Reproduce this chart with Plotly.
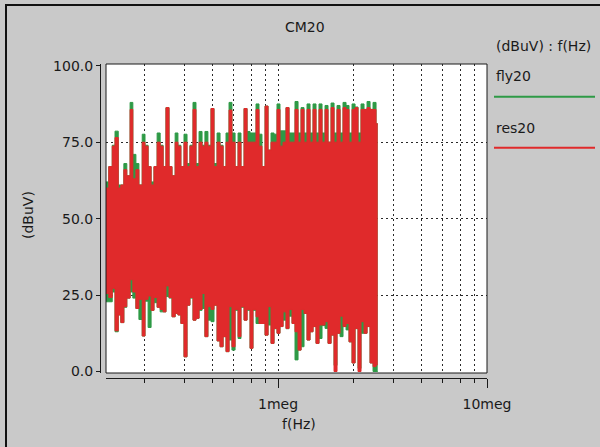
import math
import plotly.graph_objects as go

# ---- spectrum samples (column start frequencies, kHz) ----
freq_khz = [150, 155, 161, 166, 172, 177, 183, 189, 196, 202,
            209, 216, 224, 231, 239, 247, 255, 264, 273, 282,
            291, 301, 311, 322, 332, 343, 355, 367, 379, 392,
            405, 419, 433, 447, 462, 478, 494, 511, 528, 546,
            564, 583, 602, 623, 644, 665, 688, 711, 735, 759,
            785, 811, 838, 867, 896, 926, 957, 989, 1022, 1057,
            1092, 1129, 1167, 1206, 1247, 1289, 1332, 1377, 1423, 1471,
            1520, 1571, 1624, 1679, 1735, 1794, 1854, 1916, 1981, 2047,
            2116, 2187, 2261, 2337, 2415, 2496, 2580, 2667, 2757, 2849,
            2945]
stop_khz = 3000

# res20: upper / lower level of each column (dBuV)
res20_hi = [60, 67, 73.7, 76.5, 60, 61, 66, 64, 85.7, 63,
            66, 61, 75, 73.7, 67, 61, 67, 75, 73.7, 67,
            86.3, 67, 64, 75, 73.7, 67, 75, 67, 73.7, 85.7,
            67, 75, 73.7, 75, 73.7, 86, 67, 75, 73.7, 67,
            75, 85.5, 75, 67, 75, 67, 86, 75, 75, 75,
            85.7, 73.7, 67, 86.8, 72.4, 75, 75, 85.7, 73.7, 75,
            86.3, 75, 75, 85.7, 75, 85.7, 75, 85.7, 75, 85.7,
            75, 85.7, 75, 85.7, 75, 86.3, 75, 85.7, 75, 86.3,
            85.7, 75, 85.7, 86.3, 75, 85.7, 85.7, 86.3, 85.7, 85.7,
            81]
res20_lo = [25.5, 24.2, 27.2, 13.3, 18.5, 16, 21.2, 24, 30, 26,
            20.6, 23.6, 11.6, 23.6, 24.7, 20, 24.2, 21, 20.3, 19.5,
            28, 24.2, 17.9, 19, 18.5, 15.7, 4.8, 21.7, 24.2, 16.8,
            17.4, 20.3, 25.5, 11.4, 21.2, 20.3, 21.7, 10, 8.1, 11.4,
            6.5, 21.2, 8.1, 20.3, 11.4, 21.2, 16.8, 20.3, 7.6, 20.3,
            17.9, 15.7, 15.7, 11.9, 21.2, 9.2, 14.1, 12.5, 14.7, 19.5,
            14.1, 20.3, 15.7, 13, 7, 20.3, 19, 10.3, 13, 14.7,
            9.2, 15.2, 15.2, 16.3, 9.2, 11.9, 0, 12.5, 18.1, 14.7,
            15.7, 9.7, 2.8, 14.1, 0, 16.3, 12.5, 14.7, 2.8, 1.6,
            2.2]

# fly20: upper / lower level of each column (dBuV)
fly20_hi = [62, 67, 74, 78.6, 61, 61, 68, 64, 88, 71,
            68, 61, 77.6, 74, 67, 62, 67, 78, 74, 67,
            86.3, 67, 64, 78, 74, 67, 77.6, 68, 74, 88,
            68, 78.5, 74, 78.5, 74, 86, 68, 78, 74, 67,
            78, 88, 78, 67, 78, 67, 86, 78.5, 78, 78,
            87.5, 77.6, 67, 86.8, 72.4, 78, 77.6, 87.5, 78.7, 78.7,
            86.3, 78, 78, 88.3, 78, 86.3, 78, 87.5, 78, 87.5,
            78, 87.5, 78, 87, 75, 87.8, 78, 87, 78, 88,
            87, 78, 87.5, 86.5, 78, 87.5, 85.7, 88.3, 85.7, 88,
            81]
fly20_lo = [22.8, 22.8, 26, 13, 18.5, 16, 21, 24, 26, 24,
            20.6, 17, 11.6, 23, 14.4, 20, 22.5, 21, 19.5, 19.5,
            24.5, 24, 17.9, 19, 18.5, 15.7, 4.8, 21.7, 24, 16.8,
            17.4, 20, 20.6, 11.4, 16.8, 16.3, 21.7, 10, 8.1, 11.4,
            6.5, 10.3, 7, 20, 10.8, 21, 16.8, 20, 7.6, 20,
            15.7, 15.7, 15.7, 11.9, 15.2, 9.2, 14, 12.5, 14.7, 16.8,
            14, 18.1, 15.7, 3.8, 7, 8.1, 19, 10.3, 13, 14.7,
            9.2, 10.8, 15, 14.1, 9.2, 11.9, 2, 12.5, 11.4, 14.7,
            13.6, 9.7, 2.8, 14, 1, 12.5, 12.5, 14.7, 2.8, 0,
            0]

# ---- axis ticks ----
x_major_hz = [1e6, 1e7]
x_major_text = ["1meg", "10meg"]
x_minor_hz = [228.6e3, 357.1e3, 485.7e3, 614.3e3, 742.9e3, 871.4e3,
              2.286e6, 3.571e6, 4.857e6, 6.143e6, 7.429e6, 8.714e6]
y_ticks = [0, 25, 50, 75, 100]
y_tick_text = ["0.0", "25.0", "50.0", "75.0", "100.0"]
y_grid = [25, 50, 75]

GREEN = "#2e9a46"
RED = "#e02a2b"
BG = "#c9c9c9"
INK = "#1a1a1a"
FONT = "DejaVu Sans"

W, H = 600, 447
ML, MR, MT, MB = 100, 113, 64, 69


def px(x):
    return (x - ML) / (W - ML - MR)


def py(y):
    return (H - MB - y) / (H - MT - MB)


def band(lo, hi, color, name):
    xs = [f * 1e3 for f in freq_khz] + [stop_khz * 1e3]
    lo_y = list(lo) + [lo[-1]]
    hi_y = list(hi) + [hi[-1]]
    line = dict(color=color, width=1, shape="hv")
    return [
        go.Scatter(x=xs, y=lo_y, mode="lines", line=line,
                   showlegend=False, hoverinfo="skip"),
        go.Scatter(x=xs, y=hi_y, mode="lines", line=line, name=name,
                   fill="tonexty", fillcolor=color, showlegend=False),
    ]


fig = go.Figure(band(fly20_lo, fly20_hi, GREEN, "fly20")
                + band(res20_lo, res20_hi, RED, "res20"))

grid_style = dict(showgrid=True, gridcolor="#2a2a2a", gridwidth=1, griddash="2px,3px")

fig.update_layout(
    width=W, height=H,
    margin=dict(l=ML, r=MR, t=MT, b=MB, pad=0),
    paper_bgcolor=BG, plot_bgcolor="white",
    font=dict(family=FONT, size=14, color=INK),
    showlegend=False,
    xaxis=dict(
        type="log",
        range=[math.log10(150.3e3), 7],
        domain=[px(106), 1],
        anchor="free", position=0,
        showline=True, linecolor=INK, linewidth=1,
        ticks="outside", ticklen=9, tickcolor=INK, tickwidth=1,
        tickmode="array", tickvals=x_major_hz, ticktext=x_major_text,
        ticklabelstandoff=4,
        showgrid=False, zeroline=False,
        minor=dict(tickmode="array", tickvals=x_minor_hz + [1e6],
                   ticks="outside", ticklen=4, tickcolor=INK, tickwidth=1,
                   **grid_style),
    ),
    yaxis=dict(
        range=[-0.49, 100.56],
        domain=[5 / (H - MT - MB), 1],
        anchor="free", position=0,
        showline=True, linecolor=INK, linewidth=1,
        ticks="outside", ticklen=4, tickcolor=INK, tickwidth=1,
        tickmode="array", tickvals=y_ticks, ticktext=y_tick_text,
        ticklabelstandoff=0,
        showgrid=False, zeroline=False,
        minor=dict(tickmode="array", tickvals=y_grid, ticks="", **grid_style),
    ),
)

shapes = [
    # plot frame
    dict(type="rect", xref="x domain", yref="y domain", x0=0, x1=1, y0=0, y1=1,
         line=dict(color=INK, width=1), layer="above"),
    # window border
    dict(type="line", xref="paper", yref="paper", x0=px(5), x1=px(600), y0=py(5), y1=py(5),
         line=dict(color="#111111", width=2)),
    dict(type="line", xref="paper", yref="paper", x0=px(6), x1=px(6), y0=py(4), y1=py(447),
         line=dict(color="#111111", width=2)),
    # legend swatches
    dict(type="line", xref="paper", yref="paper", x0=px(494), x1=px(595), y0=py(96.7), y1=py(96.7),
         line=dict(color=GREEN, width=2)),
    dict(type="line", xref="paper", yref="paper", x0=px(494), x1=px(595), y0=py(147.7), y1=py(147.7),
         line=dict(color=RED, width=2)),
]
fig.update_layout(shapes=shapes)


def label(text, x, y, xanchor="center", angle=0):
    return dict(text=text, xref="paper", yref="paper", x=px(x), y=py(y),
                xanchor=xanchor, yanchor="middle", showarrow=False,
                textangle=angle, font=dict(family=FONT, size=14, color=INK))


fig.update_layout(annotations=[
    label("CM20", 305, 27),
    label("(dBuV) : f(Hz)", 494, 46, xanchor="left"),
    label("fly20", 494, 76, xanchor="left"),
    label("res20", 494, 128, xanchor="left"),
    label("f(Hz)", 299, 424),
    label("(dBuV)", 28, 215, angle=-90),
])

fig.write_html("out.html")
